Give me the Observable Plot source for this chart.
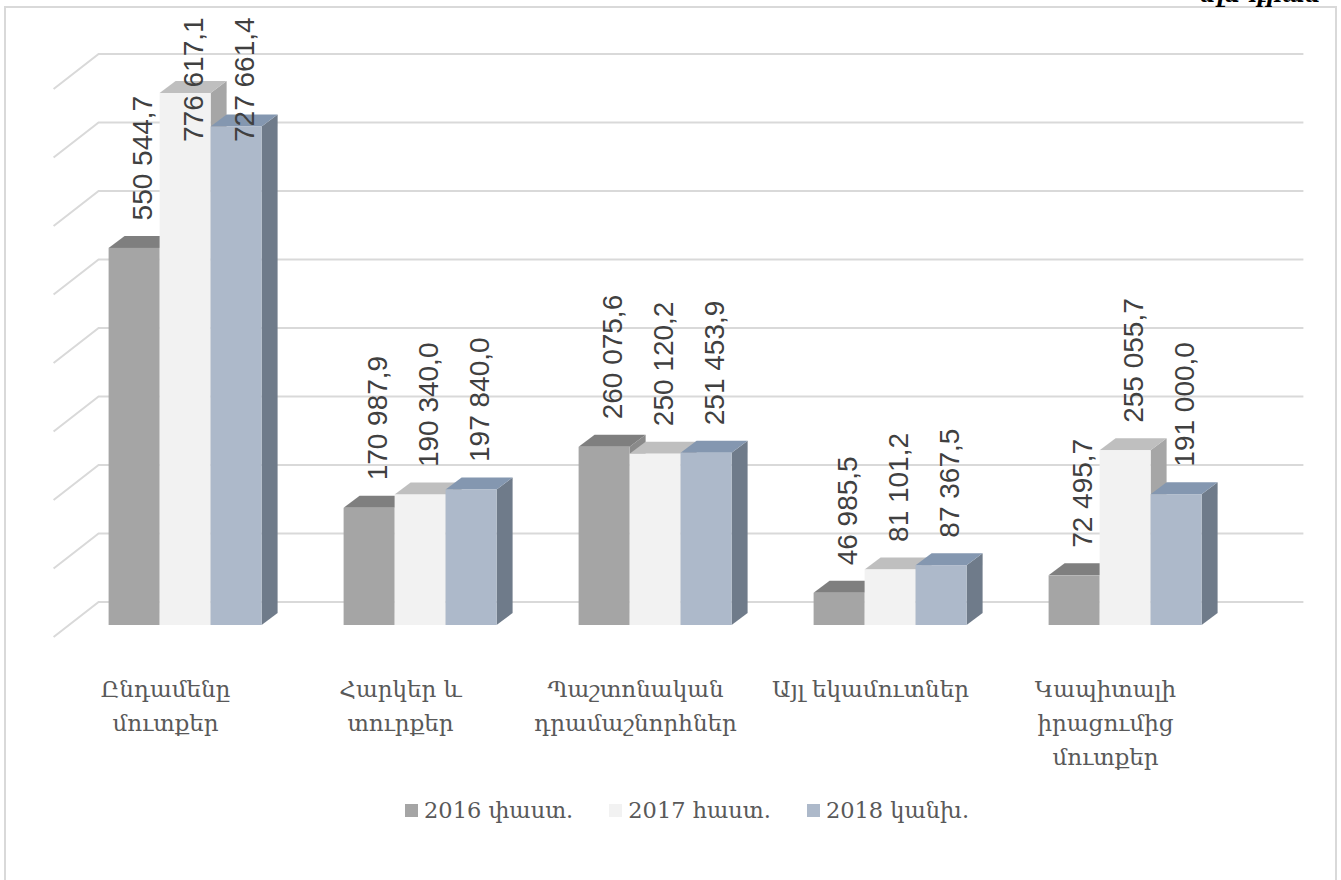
<!DOCTYPE html>
<html><head><meta charset="utf-8">
<script src="https://cdn.jsdelivr.net/npm/d3@7"></script>
<script src="https://cdn.jsdelivr.net/npm/@observablehq/plot@0.6"></script>
<style>
body{margin:0;background:#fff;width:1341px;height:880px;overflow:hidden;position:relative;font-family:"DejaVu Serif",serif;}
#frame{position:absolute;left:4px;top:6px;width:1333px;height:900px;box-sizing:border-box;border:2px solid #d9d9d9;}
#chart{position:absolute;left:0;top:0;}
#legend{position:absolute;left:405px;top:797px;display:flex;align-items:center;font-size:22.5px;color:#595959;white-space:nowrap;}
.item{display:flex;align-items:center;margin-right:36px}
.sw{width:13px;height:13px;margin-right:6px}
#note{position:absolute;left:1200px;top:-19px;font:italic bold 22px "DejaVu Serif",serif;color:#000;white-space:nowrap}
</style></head><body>
<div id="frame"></div>
<div id="note">մլն դրամ</div>
<div id="chart"></div>
<div id="legend"></div>
<script>
// ---- data ----
const categories = [
  "Ընդամենը\nմուտքեր",
  "Հարկեր և\nտուրքեր",
  "Պաշտոնական\nդրամաշնորհներ",
  "Այլ եկամուտներ",
  "Կապիտալի\nիրացումից\nմուտքեր"
];
const series = ["2016 փաստ.", "2017 հաստ.", "2018 կանխ."];
const values2016 = [550544.7, 170987.9, 260075.6, 46985.5, 72495.7];
const values2017 = [776617.1, 190340.0, 250120.2, 81101.2, 255055.7];
const values2018 = [727661.4, 197840.0, 251453.9, 87367.5, 191000.0];
const yTicks = [0, 100000, 200000, 300000, 400000, 500000, 600000, 700000, 800000];

// ---- styles ----
const frontColors = ["#a5a5a5", "#f2f2f2", "#adb9ca"];
const topColors   = ["#7f7f7f", "#bfbfbf", "#8497b0"];
const sideColors  = ["#8a8a8a", "#a6a6a6", "#6f7b8a"];
const DEPTH_X = 16, DEPTH_Y = 12;   // 3D bar depth (px)
const LABEL_CAP = 665000;           // labels near the top are kept inside the chart area

const seriesValues = [values2016, values2017, values2018];
const data = [];
categories.forEach((c, i) => series.forEach((s, k) => data.push({category: c, series: s, value: seriesValues[k][i]})));

const fmt = d3.formatLocale({decimal: ",", thousands: " ", grouping: [3], currency: ["", ""]}).format(",.1f");
const svgns = "http://www.w3.org/2000/svg";

function bars3d(index, scales, values, dims, ctx, next) {
  const g = next(index, scales, values, dims, ctx);
  const rects = Array.from(g.querySelectorAll("rect"));
  rects.forEach((r, j) => {
    const d = data[index[j]];
    const k = series.indexOf(d.series);
    const x0 = +r.getAttribute("x"), y0 = +r.getAttribute("y");
    const w = +r.getAttribute("width"), h = +r.getAttribute("height");
    const x1 = x0 + w, yb = y0 + h;
    const side = document.createElementNS(svgns, "polygon");
    side.setAttribute("points", `${x1},${y0} ${x1 + DEPTH_X},${y0 - DEPTH_Y} ${x1 + DEPTH_X},${yb - DEPTH_Y} ${x1},${yb}`);
    side.setAttribute("fill", sideColors[k]);
    const top = document.createElementNS(svgns, "polygon");
    top.setAttribute("points", `${x0},${y0} ${x0 + DEPTH_X},${y0 - DEPTH_Y} ${x1 + DEPTH_X},${y0 - DEPTH_Y} ${x1},${y0}`);
    top.setAttribute("fill", topColors[k]);
    r.parentNode.insertBefore(side, r);
    r.parentNode.insertBefore(top, r);
  });
  return g;
}

// back wall gridlines + left side wall diagonals
function walls(index, scales, values, dims) {
  const g = d3.create("svg:g").attr("stroke", "#d9d9d9").attr("stroke-width", 2).attr("fill", "none");
  if (!scales.y) return g.node();
  const left = dims.marginLeft, right = dims.width - dims.marginRight;
  for (const t of yTicks) {
    const y = scales.y(t);
    g.append("polyline").attr("points", `${left - 53.4},${y + 12} ${left - 8.4},${y - 23} ${right + 100.4},${y - 23}`);
  }
  return g.node();
}

const chart = Plot.plot({
  width: 1341, height: 790,
  marginLeft: 105.4, marginRight: 136.4, marginTop: 8.5, marginBottom: 165,
  fx: {domain: categories, paddingInner: 0.335, paddingOuter: 0, label: null},
  x: {domain: series, padding: 0, axis: null},
  y: {domain: [0, 900000], axis: null},
  color: {domain: series, range: frontColors},
  style: {fontFamily: "DejaVu Serif, serif", background: "transparent", overflow: "visible"},
  marks: [
    Plot.frame({facet: "super", stroke: "none", render: walls}),
    Plot.barY(data, {fx: "category", x: "series", y: "value", fill: "series", render: bars3d}),
    Plot.text(data, {
      fx: "category", x: "series", y: d => Math.min(d.value, LABEL_CAP),
      text: d => fmt(d.value), rotate: -90, textAnchor: "start",
      dx: 8, dy: -28, fontSize: 28, fontFamily: "Liberation Sans, Arial, sans-serif", fill: "#404040"
    }),
    Plot.axisFx({anchor: "bottom", tickSize: 0, tickPadding: 47, fontSize: 23, lineHeight: 1.48, dx: -20, label: null, color: "#595959"})
  ]
});
document.getElementById("chart").appendChild(chart);

const legend = document.getElementById("legend");
series.forEach((s, k) => {
  const item = document.createElement("div"); item.className = "item";
  const sw = document.createElement("div"); sw.className = "sw"; sw.style.background = frontColors[k];
  const tx = document.createElement("span"); tx.textContent = s;
  item.appendChild(sw); item.appendChild(tx); legend.appendChild(item);
});
</script>
</body></html>
